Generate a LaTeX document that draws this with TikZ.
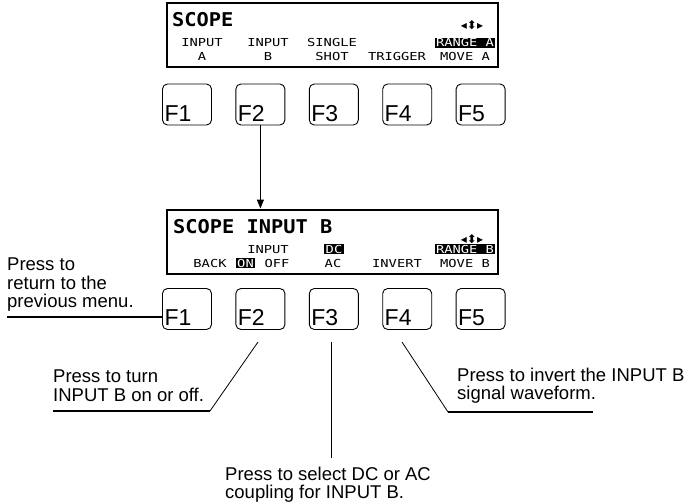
\documentclass[tikz,border=0pt]{standalone}
\usepackage{fontspec}
\setmainfont{Liberation Sans}
\newfontfamily\lcdfont[FakeStretch=1.25]{DejaVu Sans Mono}
\newfontfamily\lcdhead[FakeStretch=1.07]{DejaVu Sans Mono}
\newfontfamily\symfont{DejaVu Sans}
\usetikzlibrary{arrows.meta,positioning}

\begin{document}
\begin{tikzpicture}[
    x=1pt, y=-1pt,
    screen/.style={draw, line width=2pt, minimum width=331pt, minimum height=64pt, inner sep=0pt},
    fkey/.style={draw, line width=0.9pt, rounded corners=5pt, minimum width=49pt, minimum height=41pt,
      text width=45pt, align=left, inner xsep=2pt, inner ysep=0.5pt, text height=36.5pt, text depth=3.5pt,
      font=\fontsize{23}{23}\selectfont},
    head/.style={font=\fontsize{19}{20}\lcdhead\bfseries, inner sep=0pt, anchor=base west},
    lcd/.style={font=\fontsize{11}{12}\lcdfont, inner sep=0pt, anchor=base},
    lcdinv/.style={lcd, fill=black, text=white, inner sep=1.3pt},
    arrows4/.style={font=\fontsize{12}{12}\symfont, inner sep=0pt},
    note/.style={font=\fontsize{18.5}{18.3}\selectfont, align=left, inner sep=0pt, anchor=north west},
    arr/.style={-{Triangle[length=9pt,width=7pt]}, line width=1.3pt},
    lead/.style={line width=1.6pt},
    diag/.style={line width=0.8pt}
  ]
    \useasboundingbox (0,0) rectangle (693,503);

    % top menu
    \node[screen] (scrA) at (332.5,35) {};
    \node[head] (ttlA) at (172,27) {SCOPE};
    \node[arrows4] (moveA) at (472,25) {◂⬍▸};
    \node[lcd] (inA1) at (202,47) {INPUT};
    \node[lcd] (inA2) at (202,61) {A};
    \node[lcd] (inB1) at (268,47) {INPUT};
    \node[lcd] (inB2) at (268,61) {B};
    \node[lcd] (shot1) at (332,47) {SINGLE};
    \node[lcd] (shot2) at (332,61) {SHOT};
    \node[lcd] (trig) at (397,61) {TRIGGER};
    \node[lcdinv] (rngA) at (465,47) {RANGE A};
    \node[lcd] (mvA) at (465,61) {MOVE A};

    \node[fkey] (a1) at (187,104.5) {F1};
    \node[fkey, right=23.5pt of a1] (a2) {F2};
    \node[fkey, right=23.5pt of a2] (a3) {F3};
    \node[fkey, right=23.5pt of a3] (a4) {F4};
    \node[fkey, right=23.5pt of a4] (a5) {F5};

    % INPUT B menu
    \node[screen] (scrB) at (332.5,241.5) {};
    \node[head] (ttlB) at (173,233) {SCOPE INPUT B};
    \node[arrows4] (moveB) at (472,239) {◂⬍▸};
    \node[lcd] (inp) at (268,253) {INPUT};
    \node[lcdinv] (dc) at (334,253) {DC};
    \node[lcdinv] (rngB) at (465,253) {RANGE B};
    \node[lcd] (back) at (210,267) {BACK};
    \node[lcdinv] (on) at (245.5,267) {ON};
    \node[lcd] (off) at (277,267) {OFF};
    \node[lcd] (ac) at (333,267) {AC};
    \node[lcd] (inv) at (397,267) {INVERT};
    \node[lcd] (mvB) at (465,267) {MOVE B};

    \node[fkey] (b1) at (187,309) {F1};
    \node[fkey, right=23.5pt of b1] (b2) {F2};
    \node[fkey, right=23.5pt of b2] (b3) {F3};
    \node[fkey, right=23.5pt of b3] (b4) {F4};
    \node[fkey, right=23.5pt of b4] (b5) {F5};

    \draw[arr] (a2.south) -- (a2.south |- scrB.north);

    % callouts
    \node[note] (t1) at (7,258) {Press to\\return to the\\previous menu.};
    \node[note] (t2) at (53,370) {Press to turn\\INPUT B on or off.};
    \node[note] (t4) at (457,368) {Press to invert the INPUT B\\signal waveform.};
    \node[note] (t3) at (225,467) {Press to select DC or AC\\coupling for INPUT B.};

    \coordinate (n1) at (7,317);
    \coordinate (m2) at (258,342);
    \coordinate (k2) at (210,411);
    \coordinate (e2) at (53,411);
    \coordinate (m3) at (331.5,342);
    \coordinate (e3) at (331.5,458);
    \coordinate (m4) at (402,342);
    \coordinate (k4) at (448,412);
    \coordinate (e4) at (593,412);

    \draw[lead] (n1) -- (n1 -| b1.west);
    \draw[diag] (m2) -- (k2);
    \draw[lead] (k2) -- (e2);
    \draw[lead] (m3) -- (e3);
    \draw[diag] (m4) -- (k4);
    \draw[lead] (k4) -- (e4);
  \end{tikzpicture}
\end{document}
